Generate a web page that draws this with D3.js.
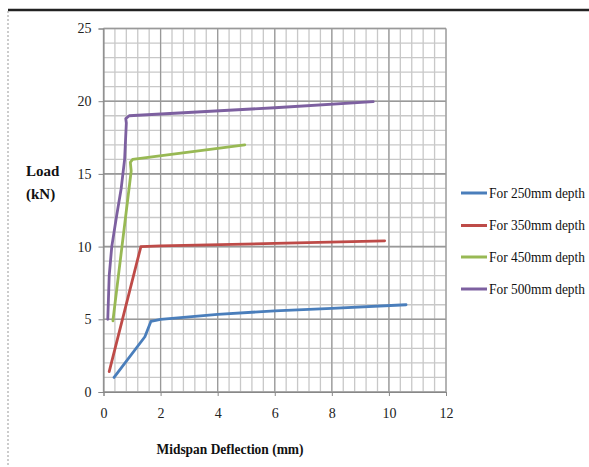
<!DOCTYPE html>
<html><head><meta charset="utf-8">
<script src="https://cdn.jsdelivr.net/npm/d3@7"></script>
<style>body{margin:0;background:#fff}svg{display:block}</style>
</head><body>
<svg id="c" width="589" height="467"></svg>
<script>
// ---- data ----
const seriesNames = ["For 250mm depth","For 350mm depth","For 450mm depth","For 500mm depth"];
const seriesColors = ["#4a7ebb","#be4b48","#98b954","#7d60a0"];
const d250 = [[0.37,1.0],[1.45,3.8],[1.66,4.85],[2.0,5.0],[4,5.34],[6,5.58],[8,5.75],[10.6,6.0]];
const d350 = [[0.2,1.4],[1.31,10.0],[2,10.05],[6,10.22],[9.85,10.4]];
const d450 = [[0.33,4.9],[0.97,15.2],[0.94,15.8],[1.02,16.0],[4.95,17.0]];
const d500 = [[0.15,5.0],[0.2,8.0],[0.29,10.0],[0.45,12.0],[0.62,14.0],[0.74,16.0],[0.8,18.5],[0.78,18.8],[0.9,19.0],[6,19.55],[9.45,19.97]];
const xTicks = [0,2,4,6,8,10,12];
const yTicks = [0,5,10,15,20,25];
const xTitle = "Midspan Deflection (mm)";
const yTitle = ["Load","(kN)"];

const svg = d3.select("#c");
const L=103.5, R=446, T=28.5, B=392;
const x = d3.scaleLinear().domain([0,12]).range([L,R]);
const y = d3.scaleLinear().domain([0,25]).range([B,T]);

// outer frame
svg.append("line").attr("x1",8).attr("x2",589).attr("y1",10).attr("y2",10).attr("stroke","#222").attr("stroke-width",2.5);
svg.append("line").attr("x1",8).attr("x2",8).attr("y1",11).attr("y2",467).attr("stroke","#999").attr("stroke-width",1).attr("stroke-dasharray","2,2");

const g = svg.append("g");
// minor grid
d3.range(0,12.0001,0.4).forEach(v=>{
  g.append("line").attr("x1",x(v)).attr("x2",x(v)).attr("y1",T).attr("y2",B).attr("stroke","#c8c8c8").attr("stroke-width",1.3);
});
d3.range(0,25.0001,1).forEach(v=>{
  g.append("line").attr("x1",L).attr("x2",R).attr("y1",y(v)).attr("y2",y(v)).attr("stroke","#c8c8c8").attr("stroke-width",1.3);
});
// major grid
xTicks.forEach(v=>{
  g.append("line").attr("x1",x(v)).attr("x2",x(v)).attr("y1",T).attr("y2",B).attr("stroke","#999").attr("stroke-width",1.2);
});
yTicks.forEach(v=>{
  g.append("line").attr("x1",L).attr("x2",R).attr("y1",y(v)).attr("y2",y(v)).attr("stroke","#999").attr("stroke-width",1.6);
});

// axes
const xAxis = d3.axisBottom(x).tickValues(xTicks).tickSize(4).tickPadding(12).tickFormat(d3.format("d"));
const yAxis = d3.axisLeft(y).tickValues(yTicks).tickSize(5).tickPadding(7).tickFormat(d3.format("d"));
const gx = svg.append("g").attr("transform",`translate(0,${B})`).call(xAxis);
const gy = svg.append("g").attr("transform",`translate(${L},0)`).call(yAxis);
[gx,gy].forEach(a=>{
  a.select(".domain").attr("stroke","#888");
  a.selectAll(".tick line").attr("stroke","#888");
  a.selectAll("text").attr("font-family","Liberation Serif").attr("font-size",14).attr("fill","#222");
});
gy.selectAll("text").attr("dy","0.32em");

// series
const line = d3.line().x(d=>x(d[0])).y(d=>y(d[1]));
[d250,d350,d450,d500].forEach((d,i)=>{
  svg.append("path").datum(d).attr("d",line).attr("fill","none").attr("stroke",seriesColors[i])
    .attr("stroke-width",2.8).attr("stroke-linejoin","round").attr("stroke-linecap","round");
});

// titles
svg.append("text").attr("x",230).attr("y",454).attr("text-anchor","middle")
  .attr("font-family","Liberation Serif").attr("font-weight","bold").attr("font-size",14).attr("fill","#111")
  .attr("textLength",147).attr("lengthAdjust","spacingAndGlyphs").text(xTitle);
svg.append("text").attr("x",26).attr("y",176).attr("font-family","Liberation Serif").attr("font-weight","bold")
  .attr("font-size",15).attr("fill","#111").text(yTitle[0]);
svg.append("text").attr("x",26).attr("y",199).attr("font-family","Liberation Serif").attr("font-weight","bold")
  .attr("font-size",15).attr("fill","#111").text(yTitle[1]);

// legend
const legY = [193,225.5,257,289];
seriesNames.forEach((n,i)=>{
  svg.append("line").attr("x1",461).attr("x2",487).attr("y1",legY[i]).attr("y2",legY[i])
    .attr("stroke",seriesColors[i]).attr("stroke-width",3);
  svg.append("text").attr("x",489).attr("y",legY[i]+4.5).attr("font-family","Liberation Serif")
    .attr("font-size",14).attr("fill","#111").attr("textLength",96).attr("lengthAdjust","spacingAndGlyphs").text(n);
});
</script>
</body></html>
